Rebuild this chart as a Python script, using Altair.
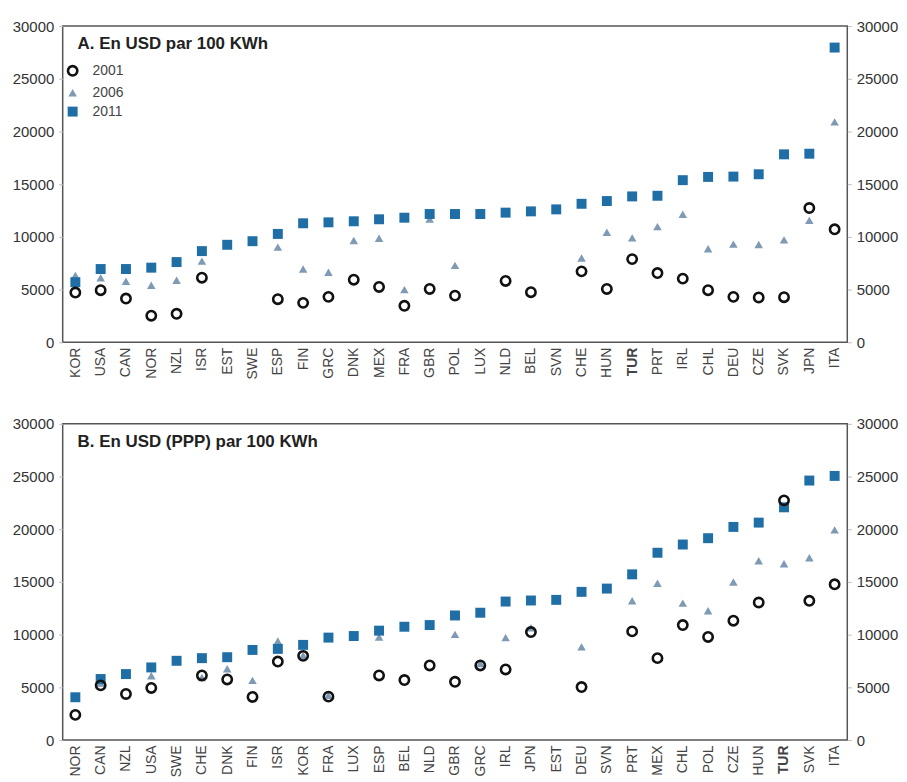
import altair as alt
import pandas as pd

# ---------------- Data ----------------
years = ["2001", "2006", "2011"]

countries_a = ["KOR", "USA", "CAN", "NOR", "NZL", "ISR", "EST", "SWE", "ESP", "FIN", "GRC",
               "DNK", "MEX", "FRA", "GBR", "POL", "LUX", "NLD", "BEL", "SVN", "CHE", "HUN",
               "TUR", "PRT", "IRL", "CHL", "DEU", "CZE", "SVK", "JPN", "ITA"]
a_2001 = [4720, 4940, 4150, 2520, 2700, 6130, None, None, 4090, 3740, 4310,
          5940, 5250, 3460, 5060, 4430, None, 5820, 4750, None, 6730, 5060,
          7890, 6570, 6040, 4940, 4310, 4250, 4280, 12740, 10720]
a_2006 = [6350, 6130, 5790, 5410, 5880, 7700, None, None, 9030, 6950, 6640,
          9650, 9870, 5000, 11700, 7300, None, None, None, None, 7990, 10440,
          9910, 10970, 12140, 8870, 9310, 9280, 9720, 11570, 20910]
a_2011 = [5700, 6950, 6950, 7080, 7610, 8650, 9250, 9590, 10280, 11290, 11380,
          11480, 11670, 11820, 12170, 12170, 12170, 12300, 12420, 12610, 13140, 13400,
          13840, 13900, 15380, 15690, 15720, 15940, 17830, 17890, 27960]

countries_b = ["NOR", "CAN", "NZL", "USA", "SWE", "CHE", "DNK", "FIN", "ISR", "KOR", "FRA",
               "LUX", "ESP", "BEL", "NLD", "GBR", "GRC", "IRL", "JPN", "EST", "DEU", "SVN",
               "PRT", "MEX", "CHL", "POL", "CZE", "HUN", "TUR", "SVK", "ITA"]
b_2001 = [2390, 5190, 4370, 4940, None, 6130, 5750, 4090, 7450, 7990, 4120,
          None, 6130, 5690, 7080, 5530, 7080, 6700, 10250, None, 5030, None,
          10310, 7770, 10910, 9780, 11320, 13050, 22740, 13210, 14780]
b_2006 = [None, 5410, None, 6100, None, 5940, 6760, 5660, 9400, 8020, 4250,
          None, 9780, None, None, 10030, 7260, 9720, 10660, None, 8840, None,
          13210, 14870, 12990, 12260, 15000, 17010, 16730, 17300, 19940]
b_2011 = [4060, 5790, 6260, 6890, 7520, 7770, 7860, 8550, 8650, 9030, 9720,
          9870, 10380, 10750, 10910, 11820, 12080, 13140, 13240, 13300, 14060, 14370,
          15720, 17770, 18550, 19150, 20220, 20630, 22080, 24620, 25060]

title_a = "A. En USD par 100 KWh"
title_b = "B. En USD (PPP) par 100 KWh"
y_ticks = [0, 5000, 10000, 15000, 20000, 25000, 30000]

# ---------------- Styling ----------------
FONT = "Liberation Sans"
C_SQ = "#1f6ea6"
C_TRI = "#7f9ab4"
W, H = 789, 318


def long_df(countries, s01, s06, s11):
    rows = []
    # drawing order: 2006, 2011, 2001 on top
    for yr, vals in (("2006", s06), ("2011", s11), ("2001", s01)):
        for c, v in zip(countries, vals):
            if v is not None:
                rows.append({"country": c, "year": yr, "value": v})
    return pd.DataFrame(rows)


def panel(countries, s01, s06, s11, title):
    df = long_df(countries, s01, s06, s11)
    xenc = alt.X(
        "country:N", sort=countries, title=None,
        axis=alt.Axis(
            labelAngle=-90, labelFontSize=14, labelColor="#444", labelFont=FONT,
            labelFontWeight={"condition": {"test": "datum.value === 'TUR'", "value": "bold"},
                             "value": "normal"},
            ticks=False, domain=False, labelPadding=5, grid=False,
        ),
    )
    yscale = alt.Scale(domain=[0, 30000], nice=False)

    def yaxis(orient):
        return alt.Axis(orient=orient, values=y_ticks, format="d", title=None, grid=False,
                        domain=False, tickSize=4, tickColor="#bbb", labelPadding=5,
                        labelFontSize=15, labelColor="#333", labelFont=FONT)

    leg = alt.Legend(title=None, orient="none", legendX=3, legendY=38, padding=0,
                     labelFontSize=14, labelColor="#444", labelFont=FONT,
                     rowPadding=5, labelOffset=13)
    dom = years
    pts = alt.Chart(df).mark_point(opacity=1).encode(
        x=xenc,
        y=alt.Y("value:Q", scale=yscale, axis=yaxis("left")),
        shape=alt.Shape("year:N", scale=alt.Scale(domain=dom, range=["circle", "triangle-up", "square"]), legend=leg),
        fill=alt.Fill("year:N", scale=alt.Scale(domain=dom, range=["transparent", C_TRI, C_SQ]), legend=leg),
        stroke=alt.Stroke("year:N", scale=alt.Scale(domain=dom, range=["#111111", C_TRI, C_SQ]), legend=leg),
        strokeWidth=alt.StrokeWidth("year:N", scale=alt.Scale(type="ordinal", domain=dom, range=[2.6, 0, 0]), legend=leg),
        size=alt.Size("year:N", scale=alt.Scale(type="ordinal", domain=dom, range=[88, 74, 100]), legend=leg),
    )
    right = alt.Chart(df).mark_point(opacity=0).encode(
        x=xenc,
        y=alt.Y("value:Q", scale=yscale, axis=yaxis("right")),
    )
    ttl = alt.Chart(pd.DataFrame({"t": [title]})).mark_text(
        align="left", baseline="alphabetic", fontSize=17, fontWeight="bold",
        font=FONT, color="#222",
    ).encode(text="t:N", x=alt.value(15), y=alt.value(23))
    return alt.layer(pts, right, ttl).resolve_scale(y="independent").properties(width=W, height=H)


chart = alt.vconcat(
    panel(countries_a, a_2001, a_2006, a_2011, title_a),
    panel(countries_b, b_2001, b_2006, b_2011, title_b),
    spacing=82, bounds="flush",
).properties(
    padding={"left": 3, "top": 8, "right": 0, "bottom": 0},
    background="white",
).configure_view(stroke="#555", strokeWidth=1.5)

chart.save("out.html", embed_options={"renderer": "svg", "actions": False})
